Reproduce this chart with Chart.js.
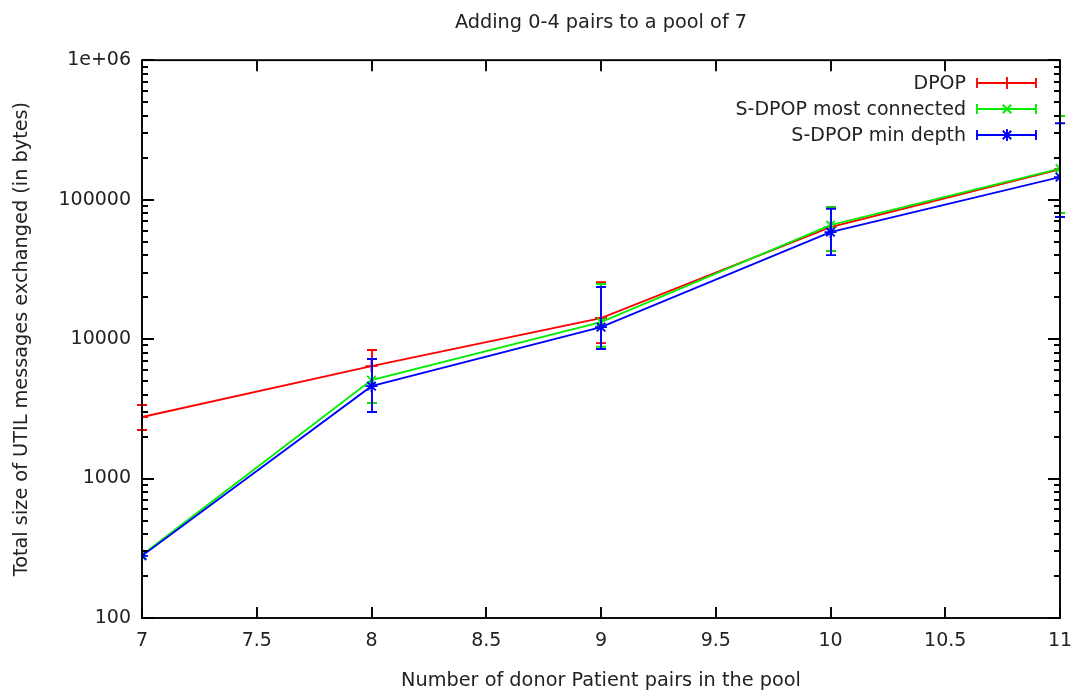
<!DOCTYPE html>
<html>
<head>
<meta charset="utf-8">
<script src="https://cdn.jsdelivr.net/npm/chart.js@4/dist/chart.umd.min.js"></script>
<style>
  html, body { margin: 0; padding: 0; background: #fff; }
  #wrap { width: 1080px; height: 697px; }
</style>
</head>
<body>
<div id="wrap"><canvas id="utilChart" width="1080" height="697"></canvas></div>
<script>
// pool sizes (x axis)
var poolSizes = [7, 8, 9, 10, 11];
var yTicks = [100, 1000, 10000, 100000, 1000000];

// DPOP
var dpop   = [2760, 6400, 14150, 63500, 165000];
var dpopLo = [2230, 3475, 9360, 42700, 80000];
var dpopHi = [3365, 8340, 25600, 88300, 397000];

// S-DPOP most connected
var mostConn   = [283, 5080, 13240, 65700, 167000];
var mostConnLo = [null, 3475, 8800, 42700, 80000];
var mostConnHi = [null, 7190, 24800, 88300, 397000];

// S-DPOP min depth
var minDepth   = [279, 4600, 12190, 58500, 145000];
var minDepthLo = [null, 2998, 8480, 40000, 75000];
var minDepthHi = [null, 7190, 23600, 86000, 353000];

var font = "'DejaVu Sans', sans-serif";
var LW = 1.9;

function pts(vals) {
  return poolSizes.map(function (x, i) { return { x: x, y: vals[i] }; });
}

var bars = [
  { lo: dpopLo, hi: dpopHi },
  { lo: mostConnLo, hi: mostConnHi },
  { lo: minDepthLo, hi: minDepthHi }
];

// gnuplot-ish frame: box, inward ticks, log minor ticks, error bars, key
var gnuplotLook = {
  id: 'gnuplotLook',
  afterDatasetDraw: function (chart, args) {
    var ctx = chart.ctx, xs = chart.scales.x, ys = chart.scales.y;
    var ds = chart.data.datasets[args.index];
    var eb = bars[args.index];
    ctx.save();
    ctx.strokeStyle = ds.borderColor;
    ctx.lineWidth = LW;
    poolSizes.forEach(function (x, i) {
      if (eb.lo[i] == null) return;
      var px = Math.round(xs.getPixelForValue(x));
      var yl = ys.getPixelForValue(eb.lo[i]);
      var yh = ys.getPixelForValue(eb.hi[i]);
      ctx.beginPath();
      ctx.moveTo(px, yl); ctx.lineTo(px, yh);
      ctx.moveTo(px - 5, yl); ctx.lineTo(px + 5, yl);
      ctx.moveTo(px - 5, yh); ctx.lineTo(px + 5, yh);
      ctx.stroke();
    });
    ctx.restore();
  },
  afterDraw: function (chart) {
    var ctx = chart.ctx, a = chart.chartArea;
    var xs = chart.scales.x, ys = chart.scales.y;
    ctx.save();
    ctx.strokeStyle = '#000';
    ctx.lineWidth = LW;
    ctx.strokeRect(a.left, a.top, a.right - a.left, a.bottom - a.top);
    ctx.beginPath();
    // x major ticks
    for (var v = 7; v <= 11; v += 0.5) {
      var px = Math.round(xs.getPixelForValue(v));
      ctx.moveTo(px, a.bottom); ctx.lineTo(px, a.bottom - 11);
      ctx.moveTo(px, a.top); ctx.lineTo(px, a.top + 11);
    }
    // y major + minor ticks
    yTicks.forEach(function (t, k) {
      var py = Math.round(ys.getPixelForValue(t));
      ctx.moveTo(a.left, py); ctx.lineTo(a.left + 12, py);
      ctx.moveTo(a.right, py); ctx.lineTo(a.right - 12, py);
      if (k < yTicks.length - 1) {
        for (var m = 2; m <= 9; m++) {
          var pm = Math.round(ys.getPixelForValue(t * m));
          ctx.moveTo(a.left, pm); ctx.lineTo(a.left + 6, pm);
          ctx.moveTo(a.right, pm); ctx.lineTo(a.right - 6, pm);
        }
      }
    });
    ctx.stroke();

    // key, top right
    var rowY = [83, 109, 135];
    ctx.font = '19px ' + font;
    ctx.textAlign = 'right';
    ctx.textBaseline = 'middle';
    chart.data.datasets.forEach(function (ds, i) {
      var y = rowY[i];
      ctx.fillStyle = '#222';
      ctx.fillText(ds.label, 966, rowY[i] + 1);
      ctx.strokeStyle = ds.borderColor;
      ctx.lineWidth = LW;
      ctx.beginPath();
      ctx.moveTo(977, y); ctx.lineTo(1036, y);
      ctx.moveTo(977, y - 5); ctx.lineTo(977, y + 5);
      ctx.moveTo(1036, y - 5); ctx.lineTo(1036, y + 5);
      ctx.stroke();
      Chart.helpers.drawPoint(ctx, {
        pointStyle: ds.pointStyle, radius: 6, rotation: 0, borderWidth: LW
      }, 1007, y);
    });
    ctx.restore();
  }
};

new Chart('utilChart', {
  type: 'line',
  data: {
    datasets: [
      { label: 'DPOP', data: pts(dpop), borderColor: '#ff0000', backgroundColor: '#ff0000',
        pointStyle: 'cross', order: 2 },
      { label: 'S-DPOP most connected', data: pts(mostConn), borderColor: '#00ee00', backgroundColor: '#00ee00',
        pointStyle: 'crossRot', order: 1 },
      { label: 'S-DPOP min depth', data: pts(minDepth), borderColor: '#0000ff', backgroundColor: '#0000ff',
        pointStyle: 'star', order: 0 }
    ]
  },
  options: {
    responsive: false,
    animation: false,
    layout: { padding: { left: 0, right: 20, top: 0, bottom: 0 } },
    elements: {
      line: { borderWidth: LW, tension: 0 },
      point: { radius: 6, borderWidth: LW }
    },
    plugins: {
      legend: { display: false },
      tooltip: { enabled: false },
      title: {
        display: true,
        text: 'Adding 0-4 pairs to a pool of 7',
        fullSize: false,
        color: '#222',
        font: { family: font, size: 19.3, weight: 'normal' },
        padding: { top: 11, bottom: 26 }
      }
    },
    scales: {
      x: {
        type: 'linear', min: 7, max: 11,
        grid: { display: false, drawTicks: false },
        border: { display: false },
        ticks: { stepSize: 0.5, padding: 12, color: '#222', font: { family: font, size: 19 },
                 callback: function (v) { return String(v); } },
        title: { display: true, text: 'Number of donor Patient pairs in the pool', color: '#222',
                 font: { family: font, size: 19.3 }, padding: { top: 12 } },
        afterFit: function (s) { s.height = 79; s.paddingLeft = 0; s.paddingRight = 0; }
      },
      y: {
        type: 'logarithmic', min: 100, max: 1000000,
        grid: { display: false, drawTicks: false },
        border: { display: false },
        afterBuildTicks: function (s) { s.ticks = yTicks.map(function (v) { return { value: v }; }); },
        ticks: {
          padding: 11, color: '#222', font: { family: font, size: 19 },
          callback: function (v) { return v === 1000000 ? '1e+06' : String(v); }
        },
        title: { display: true, text: 'Total size of UTIL messages exchanged (in bytes)', color: '#222',
                 font: { family: font, size: 19.3 }, padding: { top: 10, bottom: 4 } },
        afterFit: function (s) { s.width = 142; s.paddingTop = 0; s.paddingBottom = 0; }
      }
    }
  },
  plugins: [gnuplotLook]
});
</script>
</body>
</html>
